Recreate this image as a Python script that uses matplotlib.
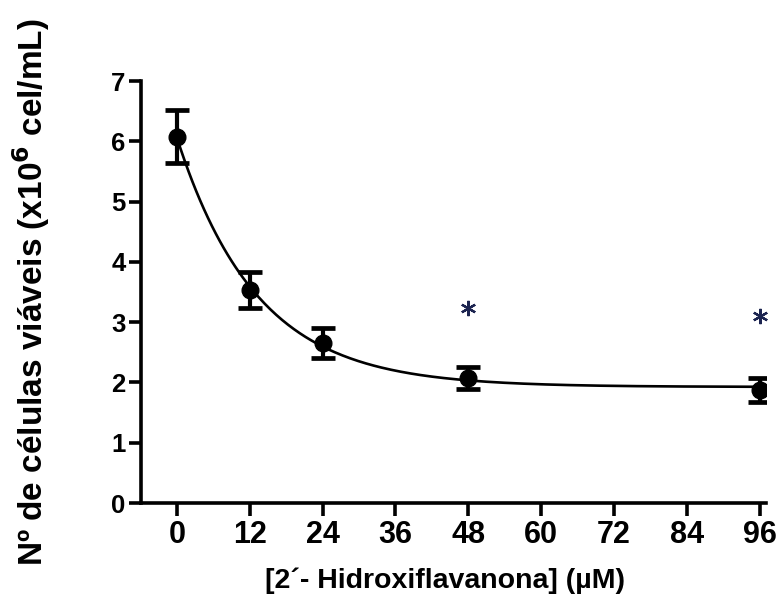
import numpy as np
import matplotlib
matplotlib.use('Agg')
import matplotlib.pyplot as plt

# concentrations (uM) and viable cells (x10^6 cel/mL)
conc = [0, 12, 24, 48, 96]
cells = [6.08, 3.53, 2.66, 2.08, 1.87]
sem = [0.44, 0.30, 0.25, 0.18, 0.20]
signif_x = [48, 96]
signif_y = [3.23, 3.10]
xticks = [0, 12, 24, 36, 48, 60, 72, 84, 96]


def fit_decay(x, y):
    # one-phase decay y = plateau + span*exp(-k x), grid over k, linear lsq for the rest
    x = np.asarray(x, float)
    y = np.asarray(y, float)
    best = None
    for k in np.linspace(0.005, 0.5, 2000):
        A = np.column_stack([np.ones_like(x), np.exp(-k * x)])
        coef = np.linalg.lstsq(A, y, rcond=None)[0]
        err = np.sum((A @ coef - y) ** 2)
        if best is None or err < best[0]:
            best = (err, k, coef)
    return best[1], best[2]


plt.rcParams['font.family'] = ['Liberation Sans', 'DejaVu Sans']
plt.rcParams['font.weight'] = 'bold'

fig = plt.figure(figsize=(7.79, 6.01), dpi=100)
ax = fig.add_axes([0.181, 0.163, 0.802, 0.702])

k, coef = fit_decay(conc, cells)
xs = np.linspace(0, 96, 300)
ax.plot(xs, coef[0] + coef[1] * np.exp(-k * xs), color='black', lw=1.9, zorder=2)

ax.errorbar(conc, cells, yerr=sem, fmt='o', color='black', ms=12,
            elinewidth=3, capsize=8.5, capthick=3.4, zorder=3)

ax.plot(signif_x, signif_y, ls='none', marker=(6, 2, 0), ms=11, mew=1.6,
        color='#1c2450', clip_on=False, zorder=4)

ax.set_xlim(-5.9, 97)
ax.set_ylim(0, 7)
ax.set_xticks(xticks)
ax.set_yticks(range(0, 8))
ax.spines['top'].set_visible(False)
ax.spines['right'].set_visible(False)
for s in ('left', 'bottom'):
    ax.spines[s].set_linewidth(2.6)
ax.tick_params(axis='both', width=2.6, length=9)
ax.tick_params(axis='y', pad=2, labelsize=18.5)
ax.tick_params(axis='x', pad=3, labelsize=22)

ax.set_xlabel('[2´- Hidroxiflavanona] (µM)', fontsize=20.5, fontweight='bold')
ax.set_ylabel('Nº de células viáveis (x10$^{\\mathbf{6}}$ cel/mL)', fontsize=24,
              fontweight='bold')
ax.yaxis.set_label_coords(-0.142, 0.5)
ax.xaxis.set_label_coords(0.487, -0.152)

fig.savefig('out.png', dpi=100)
